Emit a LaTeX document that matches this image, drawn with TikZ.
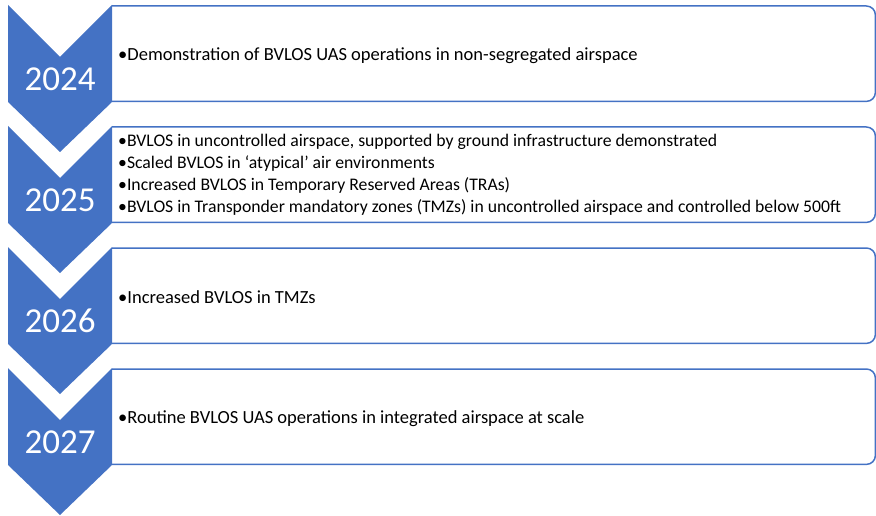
\documentclass[tikz,border=0pt]{standalone}
\usepackage{fontspec}
\setmainfont{Carlito}
\usepackage{xcolor}
\usetikzlibrary{positioning,calc}
\definecolor{chevblue}{HTML}{4472C4}

\begin{document}
\begin{tikzpicture}[x=1pt, y=-1pt,
    chevron/.style={fill=chevblue},
    year/.style={text=white, font=\fontsize{35}{40}\selectfont, inner sep=0pt},
    stage/.style={minimum width=763pt, minimum height=95pt, inner sep=0pt, anchor=north west},
    stageline/.style={draw=chevblue, line width=1.5pt, rounded corners=9pt},
    item/.style={align=left, anchor=west, inner sep=0pt, font=\fontsize{18.5}{22}\selectfont},
    items/.style={item, font=\fontsize{17.7}{22}\selectfont}
]
\useasboundingbox (0,0) rectangle (876,516);

% chevrons
\fill[chevron] (8,5) -- (60,57) -- (112,5) -- (112,102) -- (60,152) -- (8,102) -- cycle;
\fill[chevron] (8,126) -- (60,178) -- (112,126) -- (112,223) -- (60,273) -- (8,223) -- cycle;
\fill[chevron] (8,247) -- (60,299) -- (112,247) -- (112,344) -- (60,394) -- (8,344) -- cycle;
\fill[chevron] (8,368) -- (60,420) -- (112,368) -- (112,465) -- (60,515) -- (8,465) -- cycle;

\node[year] (y24) at (60,79) {2024};
\node[year] (y25) at (60,200) {2025};
\node[year] (y26) at (60,321) {2026};
\node[year] (y27) at (60,442) {2027};

% stage boxes
\node[stage] (s24) at (112,6) {};
\node[stage] (s25) at (112,127) {};
\node[stage] (s26) at (112,248) {};
\node[stage] (s27) at (112,369) {};
\draw[stageline] (s24.north west) -- (s24.north east) -- (s24.south east) -- (s24.south west);
\draw[stageline] (s25.north west) -- (s25.north east) -- (s25.south east) -- (s25.south west);
\draw[stageline] (s26.north west) -- (s26.north east) -- (s26.south east) -- (s26.south west);
\draw[stageline] (s27.north west) -- (s27.north east) -- (s27.south east) -- (s27.south west);

\node[item] (t24) at ([xshift=6pt,yshift=-1.5pt]s24.west) {•Demonstration of BVLOS UAS operations in non-segregated airspace};
\node[items] (t25) at ([xshift=6pt]s25.west) {•BVLOS in uncontrolled airspace, supported by ground infrastructure demonstrated\\
  •Scaled BVLOS in ‘atypical’ air environments\\
  •Increased BVLOS in Temporary Reserved Areas (TRAs)\\
  •BVLOS in Transponder mandatory zones (TMZs) in uncontrolled airspace and controlled below 500ft};
\node[item] (t26) at ([xshift=6pt,yshift=-1.5pt]s26.west) {•Increased BVLOS in TMZs};
\node[item] (t27) at ([xshift=6pt,yshift=-1.5pt]s27.west) {•Routine BVLOS UAS operations in integrated airspace at scale};
\end{tikzpicture}
\end{document}
